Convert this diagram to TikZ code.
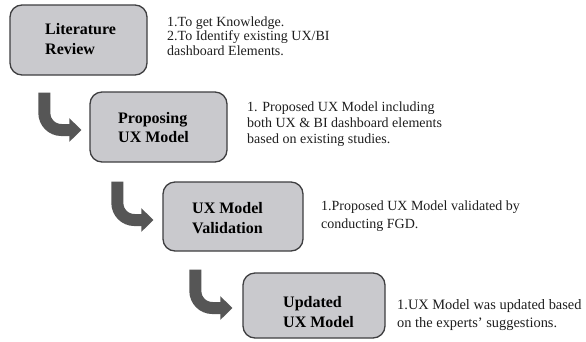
\documentclass[tikz,border=0pt]{standalone}
\usepackage{fontspec}
\setmainfont{Liberation Serif}
\usetikzlibrary{arrows.meta,calc}
\definecolor{boxfill}{RGB}{201,201,205}
\definecolor{boxline}{RGB}{62,62,64}
\definecolor{flowgray}{RGB}{86,86,86}
\definecolor{inkgray}{RGB}{30,30,30}
\tikzset{
  stagebox/.style={draw=boxline, line width=1.3pt, fill=boxfill, rounded corners=12pt,
    inner sep=0pt, minimum width=#1},
  stagelabel/.style={anchor=west, align=left, inner sep=0pt, text=black,
    font=\fontsize{16}{19.5}\selectfont\bfseries},
  note/.style={anchor=west, align=left, inner sep=0pt, text=inkgray},
  flow/.style={draw=flowgray, line width=12pt, rounded corners=17pt,
    -{Triangle[length=12pt,width=23pt]}}
}
\begin{document}
\begin{tikzpicture}[x=1pt,y=-1pt]
\useasboundingbox (0,0) rectangle (586,341);

% stage boxes
\node[stagebox=137pt, minimum height=70pt] (b1) at (78.5,40) {};
\node[stagebox=137pt, minimum height=70pt] (b2) at (158.5,127) {};
\node[stagebox=140pt, minimum height=69pt] (b3) at (233,216.5) {};
\node[stagebox=142pt, minimum height=65pt] (b4) at (314,305.5) {};

% stage titles
\node[stagelabel] (t1) at (45,39) {Literature\\Review};
\node[stagelabel] (t2) at (118,127.5) {Proposing\\UX Model};
\node[stagelabel] (t3) at (192,218) {UX Model\\Validation};
\node[stagelabel] (t4) at (283,312) {Updated\\UX Model};

% notes beside each stage
\node[note, font=\fontsize{14}{14.3}\selectfont] (n1) at (167,36)
  {1.To get Knowledge.\\2.To Identify existing UX/BI\\dashboard Elements.};
\node[note, font=\fontsize{14}{16}\selectfont] (n2) at (247,124)
  {1. Proposed UX Model including\\both UX \& BI dashboard elements\\based on existing studies.};
\node[note, font=\fontsize{14}{18}\selectfont] (n3) at (321,216)
  {1.Proposed UX Model validated by\\conducting FGD.};
\node[note, font=\fontsize{14.4}{18}\selectfont] (n4) at (397,315)
  {1.UX Model was updated based\\on the experts' suggestions.};

% bent arrows leading from one stage to the next
\draw[flow] ($(b1.south west)+(35pt,-17pt)$) |- ([shift={(-8pt,-3pt)}]b2.west);
\draw[flow] ($(b2.south west)+(28pt,-19pt)$) |- ([shift={(-9pt,-3.5pt)}]b3.west);
\draw[flow] ($(b3.south west)+(33pt,-18pt)$) |- ([shift={(-10pt,-2.5pt)}]b4.west);
\end{tikzpicture}
\end{document}
